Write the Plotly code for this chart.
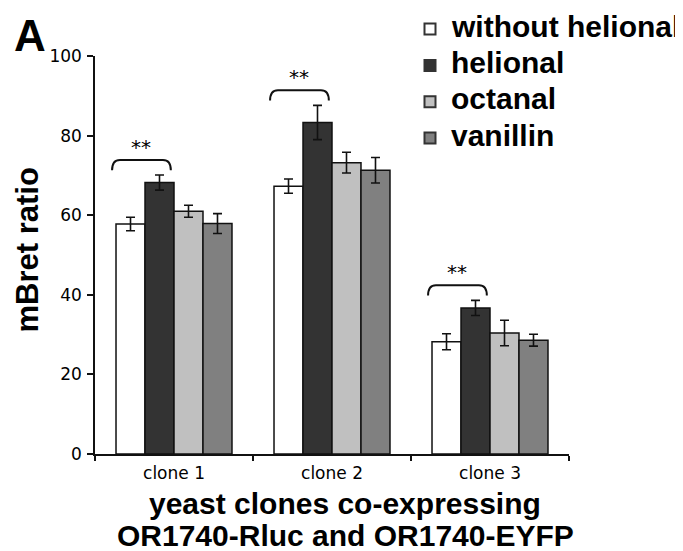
import plotly.graph_objects as go

# ---- data ----
categories = ["clone 1", "clone 2", "clone 3"]
series_names = ["without helional", "helional", "octanal", "vanillin"]
without_helional = [57.8, 67.3, 28.2]
without_helional_err = [1.7, 1.8, 2.0]
helional = [68.2, 83.3, 36.7]
helional_err = [1.9, 4.3, 1.9]
octanal = [61.0, 73.2, 30.4]
octanal_err = [1.5, 2.6, 3.2]
vanillin = [57.9, 71.3, 28.6]
vanillin_err = [2.5, 3.2, 1.5]
significance = ["**", "**", "**"]   # without helional vs helional, per clone
y_ticks = [0, 20, 40, 60, 80, 100]

values = [without_helional, helional, octanal, vanillin]
errors = [without_helional_err, helional_err, octanal_err, vanillin_err]
colors = ["#ffffff", "#333333", "#c0c0c0", "#808080"]

# page has an 8px body margin, so the figure is drawn 8px smaller
OFF = 8
W, H = 683 - OFF, 551 - OFF
ML, MR, MT, MB = 95 - OFF, 114, 56 - OFF, 97
PW, PH = W - ML - MR, H - MT - MB
BARGAP = 0.266

def px_to_paper_x(px):
    return (px - OFF - ML) / PW

def px_to_paper_y(py):
    return 1 - (py - OFF - MT) / PH

fig = go.Figure()
for name, v, e, c in zip(series_names, values, errors, colors):
    fig.add_trace(go.Bar(
        x=categories, y=v, name=name,
        marker=dict(color=c, line=dict(color="#111111", width=1.5)),
        error_y=dict(type="data", array=e, visible=True, color="#111111",
                     thickness=1.6, width=4.5),
        showlegend=False,
    ))

# ---- significance brackets (between first two bars of each group) ----
group_half = (1 - BARGAP) / 2
shapes = []
annotations = []
for i, s in enumerate(significance):
    top = helional[i] + helional_err[i] + 3.8
    end = top - 2.6
    x1 = i - group_half - 0.025
    x2 = i - 0.02
    r = 0.05
    path = (f"M {x1},{end} Q {x1},{top} {x1 + r},{top} "
            f"L {x2 - r},{top} Q {x2},{top} {x2},{end}")
    shapes.append(dict(type="path", xref="x", yref="y", path=path,
                       line=dict(color="#111111", width=2)))
    annotations.append(dict(x=(x1 + x2) / 2, y=top, xref="x", yref="y",
                            text=s, showarrow=False, yanchor="middle",
                            yshift=13,
                            font=dict(family="DejaVu Sans", size=20, color="#000000")))

# ---- legend (drawn manually for exact spacing) ----
legend_rows_px = [29, 65.4, 101.7, 138]
for name, c, cy in zip(series_names, colors, legend_rows_px):
    shapes.append(dict(type="rect", xref="paper", yref="paper",
                       x0=px_to_paper_x(424.5), x1=px_to_paper_x(435.5),
                       y0=px_to_paper_y(cy + 5.5), y1=px_to_paper_y(cy - 5.5),
                       fillcolor=c, line=dict(color="#333333", width=2)))
    annotations.append(dict(x=px_to_paper_x(449), y=px_to_paper_y(cy - 3),
                            xref="paper", yref="paper", xanchor="left",
                            yanchor="middle", text=f"<b>{name}</b>",
                            showarrow=False,
                            font=dict(family="Liberation Sans", size=30, color="#000000")))

# ---- titles ----
annotations.append(dict(x=px_to_paper_x(26.5), y=px_to_paper_y(250),
                        xref="paper", yref="paper", textangle=-90,
                        text="<b>mBret ratio</b>", showarrow=False,
                        xanchor="center", yanchor="middle",
                        font=dict(family="Liberation Sans", size=31, color="#000000")))
annotations.append(dict(x=px_to_paper_x(345), y=px_to_paper_y(503),
                        xref="paper", yref="paper",
                        text="<b>yeast clones co-expressing</b>", showarrow=False,
                        xanchor="center", yanchor="middle",
                        font=dict(family="Liberation Sans", size=30, color="#000000")))
annotations.append(dict(x=px_to_paper_x(345), y=px_to_paper_y(535),
                        xref="paper", yref="paper",
                        text="<b>OR1740-Rluc and OR1740-EYFP</b>", showarrow=False,
                        xanchor="center", yanchor="middle",
                        font=dict(family="Liberation Sans", size=30, color="#000000")))
annotations.append(dict(x=px_to_paper_x(12), y=px_to_paper_y(35),
                        xref="paper", yref="paper",
                        text="<b>A</b>", showarrow=False,
                        xanchor="left", yanchor="middle",
                        font=dict(family="Liberation Sans", size=44, color="#000000")))

fig.update_layout(
    width=W, height=H,
    margin=dict(l=ML, r=MR, t=MT, b=MB, autoexpand=False),
    paper_bgcolor="white", plot_bgcolor="white",
    barmode="group", bargap=BARGAP, bargroupgap=0,
    showlegend=False,
    shapes=shapes, annotations=annotations,
    font=dict(family="DejaVu Sans", color="#000000"),
)
fig.update_xaxes(
    type="category", tickson="boundaries", ticks="outside", ticklen=5,
    tickwidth=1.5, tickcolor="#111111", showline=True, linecolor="#111111",
    linewidth=1.5, showgrid=False, zeroline=False, ticklabelstandoff=3,
    tickfont=dict(family="DejaVu Sans", size=17, color="#000000"),
)
fig.update_yaxes(
    range=[0, 100], tickvals=y_ticks, ticks="outside", ticklen=6,
    tickwidth=1.5, tickcolor="#111111", showline=True, linecolor="#111111",
    linewidth=1.5, showgrid=False, zeroline=False, ticklabelstandoff=2,
    tickfont=dict(family="DejaVu Sans", size=17, color="#000000"),
)

fig.write_html("out.html")
